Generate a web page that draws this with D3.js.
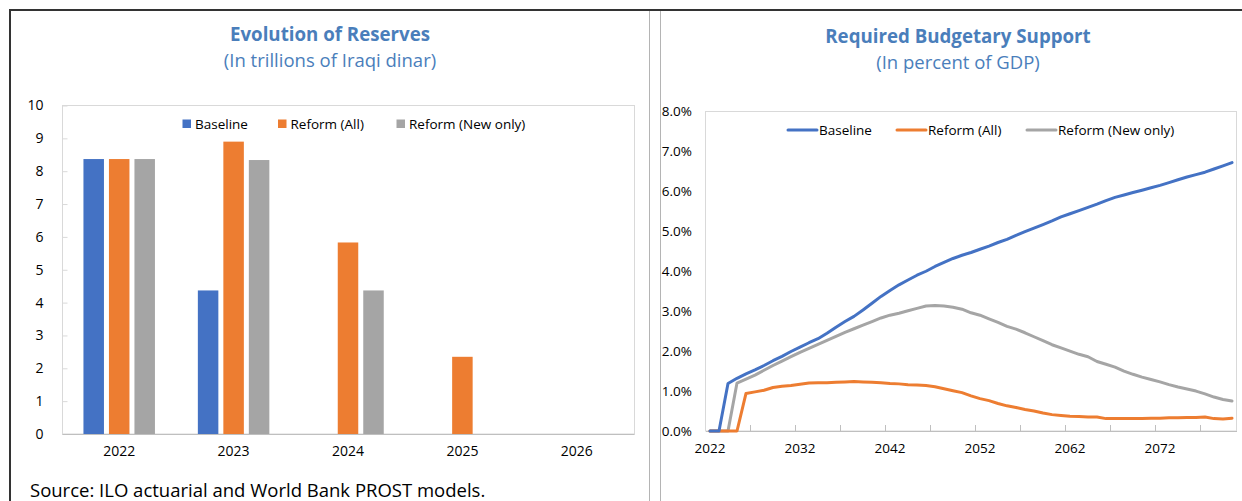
<!DOCTYPE html>
<html>
<head>
<meta charset="utf-8">
<script src="https://cdn.jsdelivr.net/npm/d3@7/dist/d3.min.js"></script>
<style>
  body { margin: 0; background: #fff; }
  svg text { font-family: "Open Sans", sans-serif; fill: #000; }
</style>
</head>
<body>
<script>
// ---- Evolution of reserves (trillions of Iraqi dinar)
var resYears = ['2022', '2023', '2024', '2025', '2026'];
var resSeries = ['Baseline', 'Reform (All)', 'Reform (New only)'];
var resBaseline  = [8.37, 4.37, null, null, null];
var resReformAll = [8.37, 8.90, 5.83, 2.35, null];
var resReformNew = [8.37, 8.34, 4.37, null, null];
var resTicks = [0, 1, 2, 3, 4, 5, 6, 7, 8, 9, 10];

// ---- Required budgetary support (percent of GDP)
var supYears = [2022, 2023, 2024, 2025, 2026, 2027, 2028, 2029, 2030, 2031,
  2032, 2033, 2034, 2035, 2036, 2037, 2038, 2039, 2040, 2041,
  2042, 2043, 2044, 2045, 2046, 2047, 2048, 2049, 2050, 2051,
  2052, 2053, 2054, 2055, 2056, 2057, 2058, 2059, 2060, 2061,
  2062, 2063, 2064, 2065, 2066, 2067, 2068, 2069, 2070, 2071,
  2072, 2073, 2074, 2075, 2076, 2077, 2078, 2079, 2080];
var supBaseline = [0, 0, 1.19, 1.32, 1.43, 1.53, 1.64, 1.76, 1.87, 1.99,
  2.10, 2.21, 2.31, 2.45, 2.60, 2.74, 2.87, 3.03, 3.20, 3.37,
  3.52, 3.66, 3.78, 3.90, 4.00, 4.12, 4.22, 4.32, 4.40, 4.47,
  4.55, 4.63, 4.72, 4.80, 4.90, 4.99, 5.08, 5.17, 5.26, 5.36,
  5.44, 5.52, 5.60, 5.68, 5.77, 5.85, 5.91, 5.97, 6.03, 6.09,
  6.15, 6.22, 6.29, 6.36, 6.42, 6.48, 6.56, 6.64, 6.72];
var supReformAll = [0, 0, 0, 0, 0.94, 0.98, 1.02, 1.09, 1.12, 1.14,
  1.17, 1.20, 1.21, 1.21, 1.22, 1.23, 1.24, 1.23, 1.22, 1.21,
  1.19, 1.18, 1.16, 1.15, 1.14, 1.11, 1.06, 1.01, 0.96, 0.88,
  0.81, 0.76, 0.69, 0.63, 0.59, 0.54, 0.50, 0.45, 0.41, 0.39,
  0.37, 0.36, 0.35, 0.35, 0.31, 0.31, 0.31, 0.31, 0.31, 0.32,
  0.32, 0.33, 0.33, 0.34, 0.34, 0.35, 0.31, 0.30, 0.32];
var supReformNew = [0, 0, 0, 1.20, 1.30, 1.40, 1.52, 1.64, 1.75, 1.86,
  1.97, 2.07, 2.17, 2.27, 2.37, 2.47, 2.56, 2.65, 2.74, 2.83,
  2.90, 2.95, 3.01, 3.07, 3.13, 3.14, 3.13, 3.10, 3.05, 2.96,
  2.90, 2.81, 2.72, 2.62, 2.55, 2.46, 2.36, 2.26, 2.16, 2.08,
  2.00, 1.92, 1.86, 1.74, 1.67, 1.60, 1.50, 1.42, 1.35, 1.29,
  1.23, 1.16, 1.10, 1.05, 1.00, 0.93, 0.85, 0.79, 0.75];
var supTicks = [0, 1, 2, 3, 4, 5, 6, 7, 8];
var supLabelYears = [2022, 2032, 2042, 2052, 2062, 2072];
var supMarkYears = [2027, 2032, 2037, 2042, 2047, 2052, 2057, 2062, 2067, 2072, 2077];

var colors = ['#4472C4', '#ED7D31', '#A5A5A5'],
    titleColor = '#4A7EBB';

var svg = d3.select('body').append('svg')
    .attr('width', 1242)
    .attr('height', 501);

// page frame
svg.append('line').attr('x1', 9).attr('x2', 1242).attr('y1', 10).attr('y2', 10)
  .attr('stroke', '#333').attr('stroke-width', 2);
svg.append('line').attr('x1', 10).attr('x2', 10).attr('y1', 9).attr('y2', 501)
  .attr('stroke', '#333').attr('stroke-width', 2);
[649.5, 660.5].forEach(function(x){
  svg.append('line').attr('x1', x).attr('x2', x).attr('y1', 11).attr('y2', 501)
    .attr('stroke', '#b4b4b4').attr('stroke-width', 1);
});

function translate(x, y){
  return 'translate(' + x + ',' + y + ')';
}

function titles(cx, t1, t2, y1, y2){
  svg.append('text').attr('x', cx).attr('y', y1)
    .attr('text-anchor', 'middle').style('font-size', '18.7px').style('font-weight', 700)
    .style('fill', titleColor).text(t1);
  svg.append('text').attr('x', cx).attr('y', y2)
    .attr('text-anchor', 'middle').style('font-size', '18.5px')
    .style('fill', titleColor).text(t2);
}

// ================= left chart: bars
var lx = d3.scaleBand().domain(resYears).range([62, 634]);
var ly = d3.scaleLinear().domain([0, 10]).range([434, 105.5]);
var lsub = d3.scaleBand().domain(resSeries).range([-35.75, 35.75]).paddingInner(0.196);

titles(330, 'Evolution of Reserves', '(In trillions of Iraqi dinar)', 41, 67);

svg.append('rect')
  .attr('x', 62.5).attr('y', 105.5).attr('width', 572).attr('height', 328.5)
  .attr('fill', 'none').attr('stroke', '#d9d9d9');

var lyAxis = svg.append('g')
  .attr('transform', translate(62.5, 0))
  .call(d3.axisLeft(ly).tickValues(resTicks).tickSize(-5).tickPadding(19));
lyAxis.select('.domain').remove();
lyAxis.selectAll('line').attr('stroke', '#d9d9d9');
lyAxis.selectAll('text').style('font-size', '14px').attr('font-family', null);

var lxAxis = svg.append('g')
  .attr('transform', translate(0, 434))
  .call(d3.axisBottom(lx).tickSize(0).tickPadding(12));
lxAxis.select('.domain').attr('stroke', '#bfbfbf');
lxAxis.selectAll('text').style('font-size', '14px').attr('font-family', null);

var resData = [resBaseline, resReformAll, resReformNew];
resSeries.forEach(function(s, si){
  var vals = resYears.map(function(y, i){ return {year: y, v: resData[si][i]}; })
    .filter(function(d){ return d.v !== null; });
  svg.append('g').selectAll('rect')
    .data(vals)
    .enter().append('rect')
      .attr('x', function(d){ return lx(d.year) + lx.bandwidth() / 2 + lsub(s); })
      .attr('width', lsub.bandwidth())
      .attr('y', function(d){ return ly(d.v); })
      .attr('height', function(d){ return ly(0) - ly(d.v); })
      .attr('fill', colors[si]);
});

// bar legend
var lLegendX = [182.5, 278, 396.5];
resSeries.forEach(function(s, si){
  var g = svg.append('g').attr('transform', translate(lLegendX[si], 124));
  g.append('rect').attr('x', 0).attr('y', -4.5).attr('width', 8.5).attr('height', 8.5)
    .attr('fill', colors[si]);
  g.append('text').attr('x', 12.5).attr('y', 0).attr('dy', '0.35em')
    .style('font-size', '13.5px').text(s);
});

svg.append('text').attr('x', 30).attr('y', 497)
  .style('font-size', '18.5px').text('Source: ILO actuarial and World Bank PROST models.');

// ================= right chart: lines
var rx = d3.scaleBand().domain(supYears).range([705.5, 1236.5]);
var ry = d3.scaleLinear().domain([0, 8]).range([431, 111.5]);

titles(958, 'Required Budgetary Support', '(In percent of GDP)', 43, 69);

svg.append('rect')
  .attr('x', 705.5).attr('y', 111.5).attr('width', 531).attr('height', 319.5)
  .attr('fill', 'none').attr('stroke', '#d9d9d9');

var ryAxis = svg.append('g')
  .attr('transform', translate(705.5, 0))
  .call(d3.axisLeft(ry).tickValues(supTicks).tickSize(0).tickPadding(13.5)
    .tickFormat(function(d){ return d.toFixed(1) + '%'; }));
ryAxis.select('.domain').remove();
ryAxis.selectAll('text').style('font-size', '13.5px').attr('font-family', null);

var rxAxis = svg.append('g')
  .attr('transform', translate(0, 431))
  .call(d3.axisBottom(rx).tickValues(supLabelYears).tickSize(0).tickPadding(12.5));
rxAxis.select('.domain').attr('stroke', '#bfbfbf');
rxAxis.selectAll('text').style('font-size', '13.5px').attr('font-family', null);

svg.append('g').selectAll('line')
  .data(supMarkYears)
  .enter().append('line')
    .attr('x1', function(d){ return rx(d); })
    .attr('x2', function(d){ return rx(d); })
    .attr('y1', 431).attr('y2', 425)
    .attr('stroke', '#bfbfbf');

var line = d3.line()
  .x(function(d){ return rx(d.year) + rx.bandwidth() / 2; })
  .y(function(d){ return ry(d.v); });

var supData = [supBaseline, supReformAll, supReformNew];
[2, 1, 0].forEach(function(si){
  var pts = supYears.map(function(y, i){ return {year: y, v: supData[si][i]}; });
  svg.append('path')
    .datum(pts)
    .attr('d', line)
    .attr('fill', 'none')
    .attr('stroke', colors[si])
    .attr('stroke-width', 3)
    .attr('stroke-linejoin', 'round')
    .attr('stroke-linecap', 'round');
});

// line legend
var rLegendX = [788, 897, 1027];
resSeries.forEach(function(s, si){
  var g = svg.append('g').attr('transform', translate(rLegendX[si], 130));
  g.append('line').attr('x1', 0).attr('x2', 29).attr('y1', 0).attr('y2', 0)
    .attr('stroke', colors[si]).attr('stroke-width', 3).attr('stroke-linecap', 'round');
  g.append('text').attr('x', 31).attr('y', 0).attr('dy', '0.35em')
    .style('font-size', '13.5px').text(s);
});
</script>
</body>
</html>
